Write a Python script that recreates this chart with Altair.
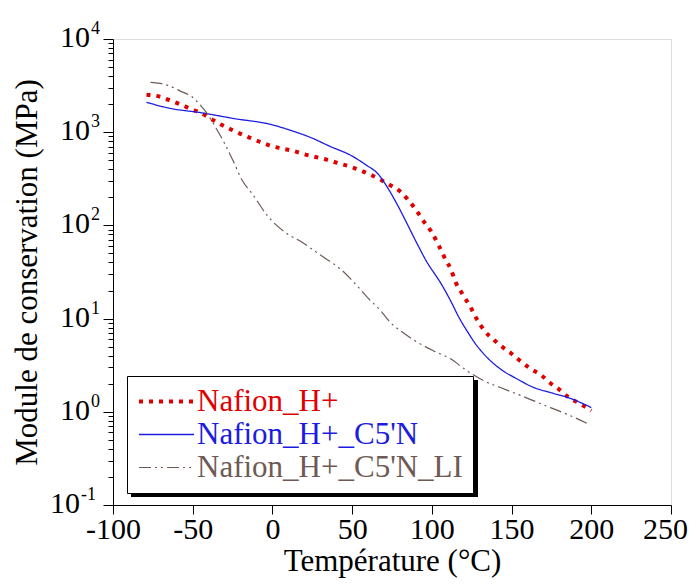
import altair as alt
import pandas as pd

# ---------------- data ----------------
NAMES = ["Nafion_H+", "Nafion_H+_C5'N", "Nafion_H+_C5'N_LI"]
COLORS = ["#e00000", "#1c1ce0", "#6e5a55"]

T_H = [-79, -72, -65, -58, -51, -45, -38.5, -32, -26, -20, -14, -8, -1, 6, 13, 20, 27, 34, 41, 48,
       54, 61, 67, 73, 80, 85, 90, 95, 100, 104, 108, 112, 115, 119, 124, 128, 133, 139, 144, 150,
       156, 162, 169, 174, 180, 186, 193, 200]
E_H = [2520, 2440, 2220, 2000, 1770, 1610, 1390, 1200, 1070, 960, 870, 790, 713, 668, 630, 580, 542, 508, 467, 431,
       397, 353, 315, 276, 232, 189, 147, 110, 84, 62.5, 45, 33.6, 24.4, 18.6, 13.5, 10, 7.4, 5.9, 5.0, 4.2,
       3.45, 2.9, 2.44, 2.05, 1.73, 1.42, 1.22, 1.03]

T_C5 = [-79, -64, -45, -24, -1, 11, 24, 36, 49, 59, 66, 72, 78, 84.5, 89.7, 96, 106.5, 111.7, 117,
        122, 127.4, 132.6, 143, 153.5, 164, 174.4, 188, 200]
E_C5 = [2090, 1800, 1620, 1400, 1211, 1052, 877, 706, 566, 442, 360, 258, 171, 104, 69, 43, 22.6, 15.6, 10.3,
        7.4, 5.35, 4.17, 2.88, 2.25, 1.82, 1.61, 1.37, 1.11]

T_LI = [-76.5, -66, -56.7, -50.4, -45.2, -41, -35.8, -30.5, -24.3, -19, -12.7, -3.3, 9.2, 18.6, 25.9, 32.6,
        42.7, 52, 59.4, 67.8, 74, 80.3, 90.8, 101.2, 111.7, 122, 132.6, 143, 153.5, 164, 174.4, 184.9, 199.5]
E_LI = [3420, 3200, 2710, 2400, 1950, 1590, 1140, 787, 478, 305, 219, 128, 81.5, 66, 54, 45,
        34, 23.6, 17, 12.2, 9.1, 7.4, 5.6, 4.5, 3.7, 2.76, 2.15, 1.82, 1.55, 1.31, 1.11, 0.94, 0.72]

X_TICKS = [-100, -50, 0, 50, 100, 150, 200, 250]
Y_EXPONENTS = ["4", "3", "2", "1", "0", "-1"]

FONT = "Liberation Serif"

rows = []
for name, ts, es in zip(NAMES, [T_H, T_C5, T_LI], [E_H, E_C5, E_LI]):
    for t, e in zip(ts, es):
        rows.append({"T": t, "E": e, "series": name})
df = pd.DataFrame(rows)

ticks_df = pd.DataFrame({"exp": Y_EXPONENTS, "E": [10.0 ** int(e) for e in Y_EXPONENTS]})
ticks_df["neg"] = ticks_df["exp"].str.startswith("-")

minor_vals = sorted({round(m * 10.0 ** k, 6) for k in range(-1, 4) for m in range(1, 10)} | {10000.0})

x_scale = alt.Scale(domain=[-100, 250], nice=False, zero=False)
y_scale = alt.Scale(type="log", domain=[0.1, 10000], nice=False)

X_TITLE = "Température (°C)"
Y_TITLE = "Module de conservation (MPa)"

x_axis = alt.Axis(values=X_TICKS, tickSize=9, labelFontSize=30, labelPadding=0, labelFlush=False,
                  labelExpr="'' + datum.value",
                  labelOffset={"condition": {"test": "datum.value == 250", "value": -6}, "value": 0},
                  titleFontSize=31, titlePadding=2, grid=False, domainColor="black", tickColor="black",
                  labelColor="black", titleColor="black", titleFontWeight="normal", labelFont=FONT,
                  titleFont=FONT)
y_axis = alt.Axis(values=minor_vals, labels=False, grid=False,
                  tickSize={"condition": {"test": "abs(log(datum.value)/LN10 - round(log(datum.value)/LN10)) < 0.001",
                                          "value": 10}, "value": 5},
                  titleFontSize=31, titlePadding=59, domainColor="black", tickColor="black",
                  titleColor="black", titleFontWeight="normal", titleFont=FONT)

label_color_expr = ("datum.label == '%s' ? '%s' : (datum.label == '%s' ? '%s' : '%s')"
                    % (NAMES[0], COLORS[0], NAMES[1].replace("'", "\\'"), COLORS[1], COLORS[2]))

leg = alt.Legend(orient="none", legendX=14, legendY=337, title=None, fillColor="white", strokeColor="black",
                 padding=10, symbolType="stroke", symbolSize=3025, clipHeight=31, rowPadding=1,
                 labelFontSize=31, labelFont=FONT, labelLimit=400, labelOffset=1,
                 labelColor={"expr": label_color_expr})

lines = alt.Chart(df).mark_line(interpolate="monotone").encode(
    x=alt.X("T:Q", scale=x_scale, axis=x_axis, title=X_TITLE),
    y=alt.Y("E:Q", scale=y_scale, axis=y_axis, title=Y_TITLE),
    color=alt.Color("series:N", scale=alt.Scale(domain=NAMES, range=COLORS), legend=leg),
    strokeDash=alt.StrokeDash("series:N",
                              scale=alt.Scale(domain=NAMES, range=[[4, 6], [1, 0], [12, 4, 2, 4, 2, 4]]),
                              legend=leg),
    strokeWidth=alt.StrokeWidth("series:N", scale=alt.Scale(type="ordinal", domain=NAMES, range=[4, 1.3, 1.2]),
                                legend=leg),
)

shadow = alt.Chart(pd.DataFrame({"a": [0]})).mark_rect(color="black").encode(
    x=alt.value(18), x2=alt.value(365), y=alt.value(341), y2=alt.value(458)
)

base_t = alt.Chart(ticks_df)
ten_pos = base_t.transform_filter("!datum.neg").mark_text(
    text="10", align="right", baseline="alphabetic", dx=-23, dy=8, fontSize=30, font=FONT, color="black"
).encode(x=alt.datum(-100), y=alt.Y("E:Q", title=Y_TITLE))
exp_pos = base_t.transform_filter("!datum.neg").mark_text(
    align="left", baseline="alphabetic", dx=-22, dy=-5, fontSize=18, font=FONT, color="black"
).encode(x=alt.datum(-100), y=alt.Y("E:Q", title=Y_TITLE), text="exp:N")
ten_neg = base_t.transform_filter("datum.neg").mark_text(
    text="10", align="right", baseline="alphabetic", dx=-33, dy=8, fontSize=30, font=FONT, color="black"
).encode(x=alt.datum(-100), y=alt.Y("E:Q", title=Y_TITLE))
exp_neg = base_t.transform_filter("datum.neg").mark_text(
    align="left", baseline="alphabetic", dx=-32, dy=-5, fontSize=18, font=FONT, color="black"
).encode(x=alt.datum(-100), y=alt.Y("E:Q", title=Y_TITLE), text="exp:N")

chart = alt.layer(lines, shadow, ten_pos, exp_pos, ten_neg, exp_neg).properties(
    width=558, height=466,
    autosize=alt.AutoSizeParams(type="none"),
    padding={"left": 105, "top": 31, "right": 17, "bottom": 73},
).configure_view(stroke="transparent").configure(font=FONT)

chart.save("out.html", embed_options={"renderer": "svg", "actions": False})
